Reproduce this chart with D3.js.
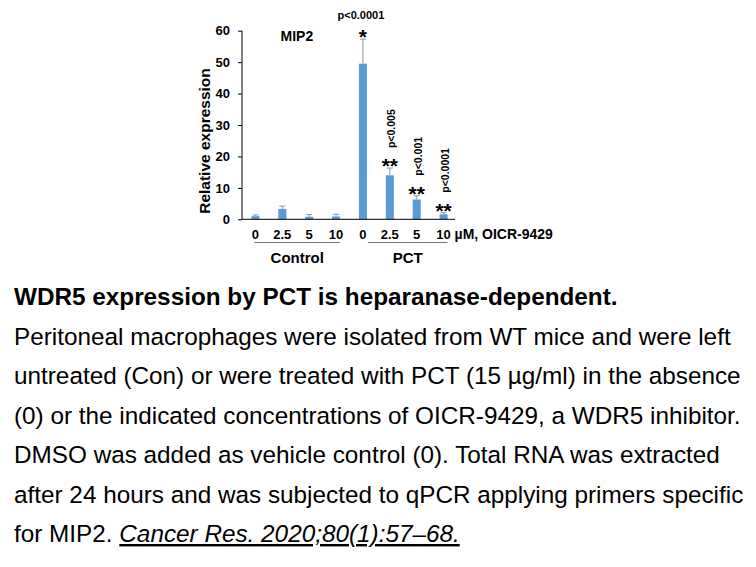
<!DOCTYPE html>
<html><head><meta charset="utf-8">
<script src="https://cdn.jsdelivr.net/npm/d3@7"></script>
<style>
body{margin:0;background:#fff;}
svg{display:block;font-family:"Liberation Sans",Arial,sans-serif;}
</style></head>
<body>
<svg id="c" width="756" height="567"></svg>
<script>
const categories = ["C0","C2.5","C5","C10","P0","P2.5","P5","P10"];
const doseLabels = ["0","2.5","5","10","0","2.5","5","10"];
const groups = ["Control","PCT"];
const values = [1.0, 3.3, 0.8, 0.9, 49.5, 14.0, 6.3, 1.6];
const errors = [0.4, 0.9, 0.7, 0.7, 7.8, 2.3, 1.2, 0.5];
const stars = ["","","","","*","**","**","**"];
const pvals = ["","","","","p<0.0001","p<0.005","p<0.001","p<0.0001"];
const yTicks = [0,10,20,30,40,50,60];

const svg = d3.select("#c");
const x0 = 242;
const x = d3.scaleBand().domain(categories).range([x0, 457]).paddingInner(0.7).paddingOuter(0.35);
const y = d3.scaleLinear().domain([0,60]).range([219.3, 30.7]);
const blue = "#5b9bd5";
const cx = c => x(c) + x.bandwidth()/2;

// bars
svg.selectAll("rect.bar").data(values).join("rect")
  .attr("x",(d,i)=>x(categories[i])).attr("width",x.bandwidth())
  .attr("y",d=>y(d)).attr("height",d=>y(0)-y(d)).attr("fill",blue);
// error bars
const eb = svg.append("g").attr("stroke","#8a97a6").attr("stroke-width",1);
values.forEach((v,i)=>{
  const c = cx(categories[i]);
  eb.append("line").attr("x1",c).attr("x2",c).attr("y1",y(v)).attr("y2",y(v+errors[i]));
  eb.append("line").attr("x1",c-3).attr("x2",c+3).attr("y1",y(v+errors[i])).attr("y2",y(v+errors[i]));
});

// y axis
const ya = svg.append("g").attr("transform",`translate(${x0},0)`)
  .call(d3.axisLeft(y).tickValues(yTicks).tickSize(4).tickPadding(8));
ya.select(".domain").attr("stroke","#000").attr("d","M0,"+y(60)+"V"+y(0));
ya.selectAll("text").attr("font-size",13).attr("font-weight","bold").attr("fill","#000")
  .attr("font-family","Liberation Sans, Arial, sans-serif");
svg.append("text").attr("transform","translate(209.5,141) rotate(-90)")
  .attr("text-anchor","middle").attr("font-size",15.5).attr("font-weight","bold").text("Relative expression");

// x axis line
svg.append("line").attr("x1",x0).attr("x2",455).attr("y1",y(0)).attr("y2",y(0)).attr("stroke","#000");

// dose labels
svg.selectAll("text.dose").data(doseLabels).join("text")
  .attr("x",(d,i)=>cx(categories[i])).attr("y",239)
  .attr("text-anchor","middle").attr("font-size",13).attr("font-weight","bold").text(d=>d);
svg.append("text").attr("x",cx("P10")+11).attr("y",239)
  .attr("font-size",14).attr("font-weight","bold").text("µM, OICR-9429");

// group underlines and labels
svg.append("line").attr("x1",cx("C0")-1).attr("x2",cx("C10")+4).attr("y1",242.5).attr("y2",242.5)
  .attr("stroke","#777").attr("stroke-width",1);
svg.append("line").attr("x1",cx("P0")+5).attr("x2",cx("P10")+4).attr("y1",242.5).attr("y2",242.5)
  .attr("stroke","#777").attr("stroke-width",1);
svg.append("text").attr("x",(cx("C0")+cx("C10")+3)/2).attr("y",262.5)
  .attr("text-anchor","middle").attr("font-size",15).attr("font-weight","bold").text(groups[0]);
svg.append("text").attr("x",(cx("P0")+cx("P10")+9)/2).attr("y",262.5)
  .attr("text-anchor","middle").attr("font-size",15).attr("font-weight","bold").text(groups[1]);

// MIP2
svg.append("text").attr("x",280.5).attr("y",41).attr("font-size",14).attr("font-weight","bold").text("MIP2");

// stars and p-values
values.forEach((v,i)=>{
  if(!stars[i]) return;
  const c = cx(categories[i]);
  const top = y(v+errors[i]);
  svg.append("text").attr("x",c).attr("y",top+5)
    .attr("text-anchor","middle").attr("font-size",21).attr("font-weight","bold").text(stars[i]);
  if(i===4){
    svg.append("text").attr("x",c-2).attr("y",top-20).attr("text-anchor","middle")
      .attr("font-size",11).attr("font-weight","bold").text(pvals[i]);
  } else {
    svg.append("text").attr("transform",`translate(${c+5.3},${top-20}) rotate(-90)`)
      .attr("font-size",10.5).attr("font-weight","bold").text(pvals[i]);
  }
});

// caption
const cap = svg.append("g").attr("font-size",24.3).attr("fill","#000");
cap.append("text").attr("x",14).attr("y",305).attr("font-weight","bold").text("WDR5 expression by PCT is heparanase-dependent.");
const lines = [
 "Peritoneal macrophages were isolated from WT mice and were left",
 "untreated (Con) or were treated with PCT (15 µg/ml) in the absence",
 "(0) or the indicated concentrations of OICR-9429, a WDR5 inhibitor.",
 "DMSO was added as vehicle control (0). Total RNA was extracted",
 "after 24 hours and was subjected to qPCR applying primers specific"
];
lines.forEach((t,i)=>cap.append("text").attr("x",14).attr("y",345+i*39.4).text(t));
const last = cap.append("text").attr("x",14).attr("y",542);
last.append("tspan").text("for MIP2. ");
last.append("tspan").attr("font-style","italic").attr("text-decoration","underline").text("Cancer Res. 2020;80(1):57–68.");
</script>
</body></html>
